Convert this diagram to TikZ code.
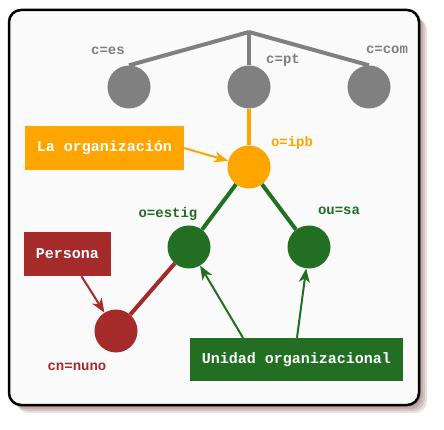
\documentclass[tikz,border=0pt]{standalone}
\usepackage{fontspec}
\setmonofont{Liberation Mono}
\usetikzlibrary{arrows.meta}
\definecolor{dngray}{RGB}{128,128,128}
\definecolor{dnorange}{RGB}{255,165,0}
\definecolor{dngreen}{RGB}{34,110,34}
\definecolor{dnred}{RGB}{165,42,42}
\definecolor{dnpaper}{RGB}{250,250,250}

\begin{document}
\begin{tikzpicture}[x = 1pt, y = -1pt,
	every node/.style = {font = \ttfamily\bfseries\fontsize{14}{14}\selectfont},
	entry/.style = {circle, minimum size = 43pt, inner sep = 0pt},
	tag/.style = {inner sep = 0pt},
	caption/.style = {rectangle, inner sep = 0pt, text = white, font = \ttfamily\bfseries\fontsize{15}{15}\selectfont},
	tree/.style = {line width = 4pt},
	hint/.style = {line width = 2pt, -{Stealth[length = 14pt, width = 11pt, inset = 4pt]}}]

	\useasboundingbox (0,0) rectangle (444,430);
	% shadow and frame
	\foreach \d in {2,4,6,8}
		\fill[black!70!red, opacity = 0.12, rounded corners = 12] (9+\d,10+\d) rectangle (419+\d,405+\d);
	\draw[line width = 2.5pt, fill = dnpaper, rounded corners = 12] (9,10) rectangle (419,405);

	\coordinate (root) at (249, 32);
	\node (ES)    at (129,  87) [entry, fill = dngray] {};
	\node (PT)    at (249,  87) [entry, fill = dngray] {};
	\node (COM)   at (369,  87) [entry, fill = dngray] {};
	\node (IPB)   at (249, 167) [entry, fill = dnorange] {};
	\node (ESTIG) at (189, 247) [entry, fill = dngreen] {};
	\node (SA)    at (309, 247) [entry, fill = dngreen] {};
	\node (NUNO)  at (116, 331) [entry, fill = dnred] {};

	\node (lES)    at (108,  51) [tag, text = dngray] {c=es};
	\node (lPT)    at (283,  60) [tag, text = dngray] {c=pt};
	\node (lCOM)   at (387,  50) [tag, text = dngray] {c=com};
	\node (lIPB)   at (292, 143) [tag, text = dnorange] {o=ipb};
	\node (lESTIG) at (168, 214) [tag, text = dngreen] {o=estig};
	\node (lSA)    at (339, 211) [tag, text = dngreen] {ou=sa};
	\node (lNUNO)  at (77,  367) [tag, text = dnred] {cn=nuno};

	\node (ORG) at (104.5, 148)   [caption, fill = dnorange, minimum width = 159pt, minimum height = 44pt] {La organización};
	\node (PER) at (67.5, 254)    [caption, fill = dnred, minimum width = 87pt, minimum height = 44pt] {Persona};
	\node (UO)  at (296.5, 359.5) [caption, fill = dngreen, minimum width = 213pt, minimum height = 43pt] {Unidad organizacional};

	\foreach \to in {ES, PT, COM}
		\draw[tree, dngray] (root) -- (\to.north);
	\draw[tree, dnorange] (PT) -- (IPB);
	\foreach \to in {ESTIG, SA}
		\draw[tree, dngreen] (IPB) -- (\to);
	\draw[tree, dnred] (ESTIG) -- (NUNO);

	\draw[hint, dnorange] (ORG.east) -- (IPB);
	\draw[hint, dnred] (PER) -- (NUNO);
	\draw[hint, dngreen] (UO.north -| 243,0) -- (ESTIG);
	\draw[hint, dngreen] (UO.north -| 297,0) -- (SA);

\end{tikzpicture}
\end{document}
